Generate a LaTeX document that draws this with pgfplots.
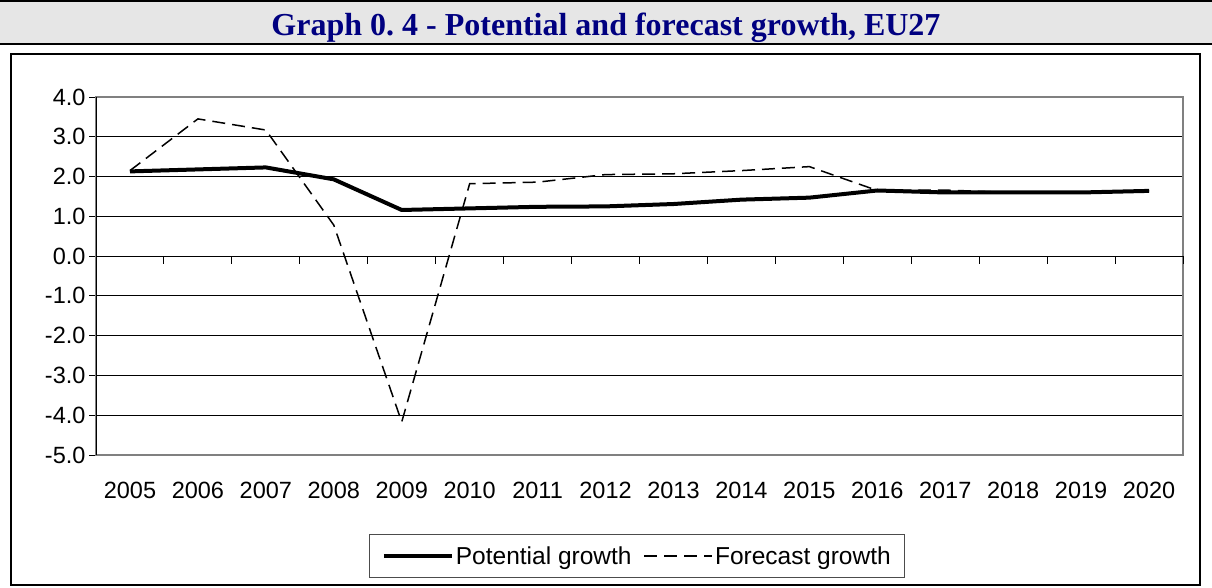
\documentclass[border=0pt]{standalone}
\usepackage{fontspec}
\setmainfont{Liberation Sans}
\newfontfamily\titlefont{Liberation Serif}
\usepackage{pgfplots}
\pgfplotsset{compat=1.18}
\definecolor{navy}{RGB}{0,0,128}
\definecolor{titlebg}{RGB}{230,230,230}
\frenchspacing
\begin{document}
\begin{tikzpicture}[x=1pt,y=1pt]
\useasboundingbox (0,0) rectangle (1212,-587);
\fill[titlebg] (0,-1) rectangle (1212,-44);
\draw[line width=1.5pt] (0,-1) -- (1212,-1);
\draw[line width=1.5pt] (0,-44) -- (1212,-44);
\node[anchor=base, text=navy, inner sep=0pt, font=\titlefont\bfseries\fontsize{32}{38}\selectfont] at (606,-35) {Graph 0. 4 - Potential and forecast growth, EU27};
\draw[line width=1.5pt] (11,-54) rectangle (1200,-585);
\begin{axis}[
  scale only axis, width=1087pt, height=358pt,
  at={(96pt,-455pt)}, anchor=south west,
  clip=false,
  xmin=-0.5, xmax=15.5, ymin=-5, ymax=4,
  xtick={0,...,15},
  xticklabels={2005,2006,2007,2008,2009,2010,2011,2012,2013,2014,2015,2016,2017,2018,2019,2020},
  ytick={-5,-4,-3,-2,-1,0,1,2,3,4},
  yticklabels={-5.0,-4.0,-3.0,-2.0,-1.0,0.0,1.0,2.0,3.0,4.0},
  ymajorgrids, grid style={black, line width=1pt},
  axis line style={draw=black!50, line width=1.5pt},
  tick pos=left,
  tick align=outside, major tick length=7pt,
  xtick style={draw=none}, ytick style={black, line width=1pt},
  tick label style={font=\fontsize{23.5}{28}\selectfont},
  xticklabel style={yshift=-17pt},
  legend columns=2,
  legend style={at={(0.498,-0.282)}, anchor=center, draw=black!70, line width=1pt,
    font=\fontsize{24.5}{29}\selectfont, inner xsep=12pt, inner ysep=10pt,
    /tikz/every even column/.append style={column sep=10pt}},
  legend image code/.code={\draw[#1] (0pt,0pt) -- (68pt,0pt);},
]
\addplot[black, line width=4pt, line join=round] coordinates {
(0,2.13) (1,2.18) (2,2.23) (3,1.93) (4,1.16) (5,1.20) (6,1.24) (7,1.25)
(8,1.31) (9,1.42) (10,1.47) (11,1.65) (12,1.60) (13,1.60) (14,1.60) (15,1.64)};
\addlegendentry{Potential growth}
\addplot[black, line width=1.5pt, dash pattern=on 13pt off 7pt] coordinates {
(0,2.15) (1,3.45) (2,3.17) (3,0.78) (4,-4.17) (5,1.82) (6,1.86) (7,2.05)
(8,2.07) (9,2.15) (10,2.25) (11,1.65) (12,1.66) (13,1.60) (14,1.60) (15,1.64)};
\addlegendentry{Forecast growth}
\draw[black, line width=1pt] (axis cs:-0.5,-5) -- (axis cs:-0.5,4);
\draw[black, line width=1pt] (axis cs:-0.5,0) -- (axis cs:15.5,0);
\pgfplotsinvokeforeach{-0.5,0.5,...,15.5}{\draw[black, line width=1pt] (axis cs:#1,0) -- ++(0pt,-8pt);}
\end{axis}
\end{tikzpicture}
\end{document}
